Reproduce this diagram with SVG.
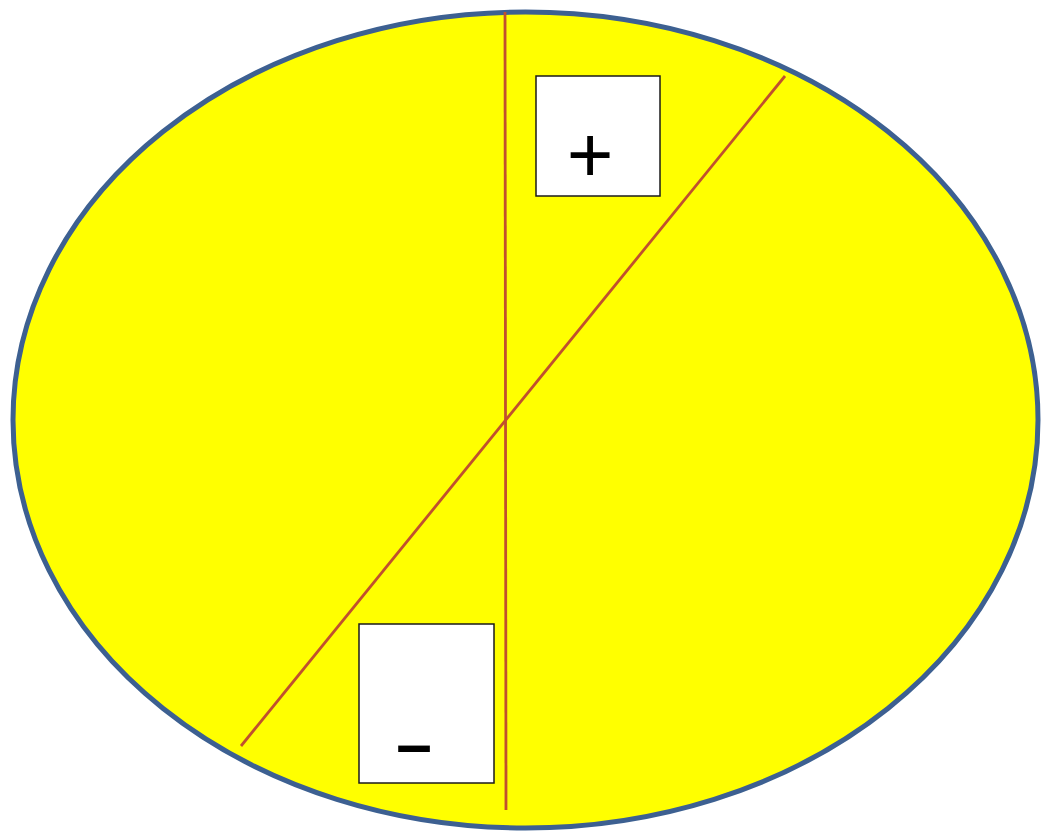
<svg xmlns="http://www.w3.org/2000/svg" width="1043" height="839" viewBox="0 0 1043 839">
<style>
.box{fill:#ffffff;stroke:#1a1a1a;stroke-width:1.5}
.ln{stroke:#c0502e;stroke-width:2.8;fill:none}
.sym{font-family:"Liberation Sans",Arial,sans-serif;fill:#000000;text-anchor:middle}
</style>
<rect width="1043" height="839" fill="#ffffff"/>
<g id="ellipse">
<ellipse cx="525.5" cy="420" rx="512.5" ry="408" fill="#ffff00" stroke="#3d6091" stroke-width="5"/>
</g>
<g id="connectors">
<line class="ln" x1="505" y1="12" x2="506" y2="810"/>
<line class="ln" x1="785" y1="76" x2="241" y2="746"/>
</g>
<g id="plus">
<rect class="box" x="536" y="76" width="124" height="120"/>
<text class="sym" x="590" y="182" font-size="80">+</text>
</g>
<g id="minus">
<rect class="box" x="359" y="624" width="135" height="159"/>
<text class="sym" x="414" y="766" font-size="64" font-weight="bold">–</text>
</g>
</svg>
